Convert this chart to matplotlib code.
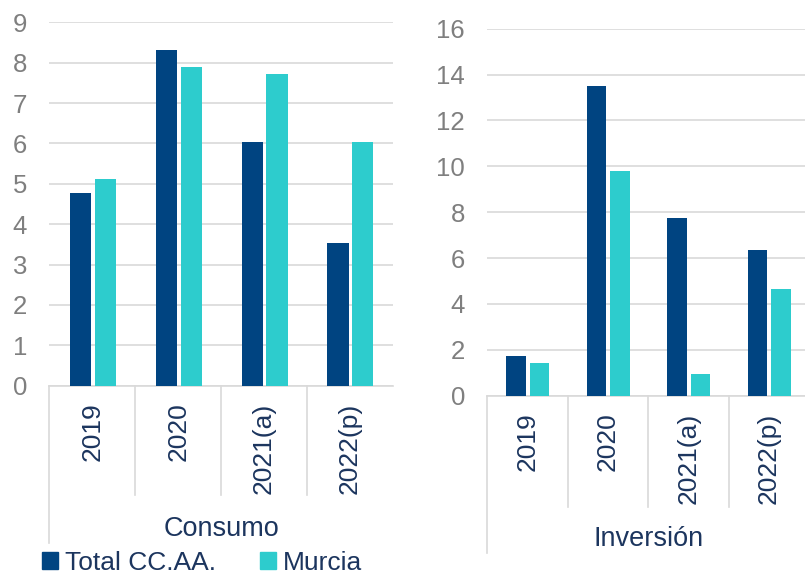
import numpy as np
import matplotlib
matplotlib.use('Agg')
import matplotlib.pyplot as plt
from matplotlib.patches import Patch

plt.rcParams['font.family'] = ['Liberation Sans', 'DejaVu Sans']

# Data
years = ['2019', '2020', '2021(a)', '2022(p)']
consumo_total = [4.78, 8.31, 6.04, 3.54]
consumo_murcia = [5.13, 7.90, 7.71, 6.04]
inversion_total = [1.74, 13.50, 7.73, 6.34]
inversion_murcia = [1.41, 9.81, 0.96, 4.66]

navy = '#004481'
aqua = '#2DCCCD'
grid_col = '#D9D9D9'
tick_col = '#7F7F7F'
text_col = '#1C355E'

fig = plt.figure(figsize=(8.05, 5.75), dpi=100)
ax1 = fig.add_axes([0.0612, 0.3292, 0.4270, 0.6320])
ax2 = fig.add_axes([0.6053, 0.3118, 0.3996, 0.6383])


def draw_panel(ax, total, murcia, ymax, step, title, title_y, sep_len, first_len):
    x = np.arange(len(years))
    w = 0.245
    ax.bar(x - 0.14, total, w, color=navy, zorder=3)
    ax.bar(x + 0.15, murcia, w, color=aqua, zorder=3)
    ax.set_xlim(-0.5, 3.5)
    ax.set_ylim(0, ymax)
    ax.set_yticks(np.arange(0, ymax + 1, step))
    ax.yaxis.grid(True, color=grid_col, lw=1.2, zorder=0)
    for s in ['left', 'right', 'top']:
        ax.spines[s].set_visible(False)
    ax.spines['bottom'].set_color(grid_col)
    ax.spines['bottom'].set_linewidth(1.2)
    ax.tick_params(axis='y', length=0, pad=16, labelsize=18.5, labelcolor=tick_col)
    ax.set_xticks(x)
    ax.set_xticklabels(years, rotation=90, va='top', fontsize=19, color=text_col)
    ax.tick_params(axis='x', which='major', length=0, pad=12)
    # category separators below the axis
    tr = ax.get_xaxis_transform()
    for b in [0.5, 1.5, 2.5]:
        ax.plot([b, b], [0, -sep_len], transform=tr, color=grid_col, lw=1.2, clip_on=False)
    ax.plot([-0.5, -0.5], [0, -first_len], transform=tr, color=grid_col, lw=1.2, clip_on=False)
    ax.text(1.5, title_y, title, transform=tr, ha='center', va='center',
            fontsize=19.5, color=text_col)


draw_panel(ax1, consumo_total, consumo_murcia, 9, 1, 'Consumo', -0.395, 0.30, 0.432)
draw_panel(ax2, inversion_total, inversion_murcia, 16, 2, 'Inversión', -0.39, 0.303, 0.428)

handles = [Patch(color=navy, label='Total CC.AA.'), Patch(color=aqua, label='Murcia')]
fig.legend(handles=handles, loc='center left', bbox_to_anchor=(0.036, 0.021),
           ncol=2, frameon=False, fontsize=19, handlelength=0.6, handleheight=0.6,
           handletextpad=0.25, columnspacing=1.7, borderpad=0, labelcolor=text_col)

fig.savefig('out.png', dpi=100)
